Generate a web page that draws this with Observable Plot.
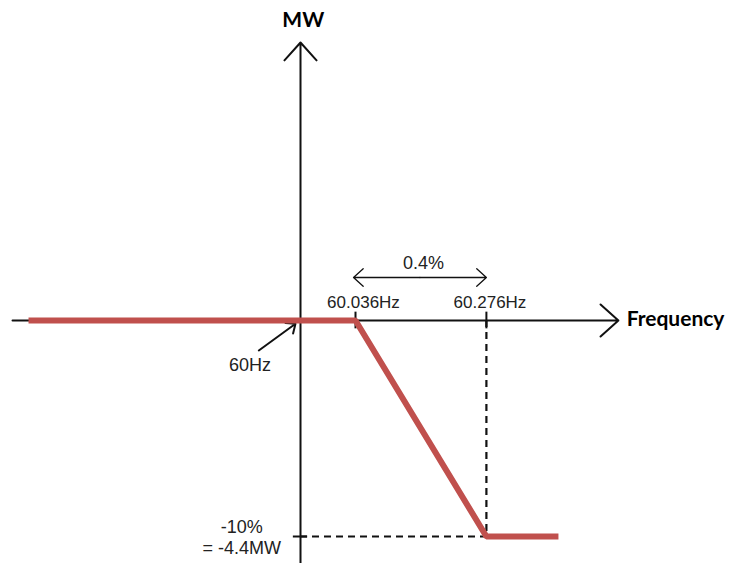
<!DOCTYPE html>
<html>
<head>
<meta charset="utf-8">
<script src="https://cdn.jsdelivr.net/npm/d3@7"></script>
<script src="https://cdn.jsdelivr.net/npm/@observablehq/plot@0.6"></script>
<style>
  html, body { margin: 0; padding: 0; background: #fff; }
  #chart svg { display: block; }
</style>
</head>
<body>
<div id="chart"></div>
<script>
// Schematic droop characteristic (x positions are schematic, not to scale)
const freqLabels = ["60Hz", "60.036Hz", "60.276Hz"];
const freqPos = [0, 1, 3.38];           // schematic positions along the frequency axis
const mwLevelLabel = ["-10%", "= -4.4MW"];
const mwLevel = -4.4;                   // MW at full droop
const spanLabel = "0.4%";
const axisTitles = ["MW", "Frequency"];

// droop curve (schematic x, MW)
const curveX = [-4.945, 0, 1, 3.38, 4.69];
const curveY = [0, 0, 0, -4.4, -4.4];
const curve = curveX.map((x, i) => ({x, y: curveY[i]}));

// axes extents (schematic units)
const xAxisExtent = [-5.236, 5.78];
const yAxisExtent = [-4.95, 5.663];

const black = "#111";
const red = "#c0504d";
const sans = "Liberation Sans, Arial, sans-serif";
const bold = "Lato, Calibri, sans-serif";

const chart = Plot.plot({
  width: 729,
  height: 563,
  margin: 0,
  x: {domain: [-300 / 55, 429 / 55], axis: null},
  y: {domain: [-243 / 49.0909, 320 / 49.0909], axis: null},
  marks: [
    // dashed guides
    Plot.ruleX([freqPos[2]], {y1: 0, y2: mwLevel, stroke: black, strokeWidth: 2.2, strokeDasharray: "7,5"}),
    Plot.ruleY([mwLevel], {x1: freqPos[0], x2: freqPos[2], stroke: black, strokeWidth: 2.2, strokeDasharray: "7,5"}),
    // axes with arrow heads
    Plot.arrow([{x1: xAxisExtent[0], x2: xAxisExtent[1], y: 0}], {
      x1: "x1", x2: "x2", y1: "y", y2: "y", stroke: black, strokeWidth: 2, headLength: 18, headAngle: 84
    }),
    Plot.arrow([{x: 0, y1: yAxisExtent[0], y2: yAxisExtent[1]}], {
      x1: "x", x2: "x", y1: "y1", y2: "y2", stroke: black, strokeWidth: 2, headLength: 18, headAngle: 84
    }),
    // ticks
    Plot.ruleX([freqPos[1], freqPos[2]], {y1: -0.17, y2: 0.17, stroke: black, strokeWidth: 2}),
    Plot.ruleY([mwLevel], {x1: -0.13, x2: 0.13, stroke: black, strokeWidth: 2}),
    // 0.4% double-headed arrow
    Plot.arrow([
      {x1: (0.964 + freqPos[2]) / 2, x2: 0.964, y: 0.876},
      {x1: (0.964 + freqPos[2]) / 2, x2: freqPos[2], y: 0.876}
    ], {x1: "x1", x2: "x2", y1: "y", y2: "y", stroke: black, strokeWidth: 1.3, headLength: 15, headAngle: 84}),
    // 60Hz pointer arrow
    Plot.arrow([{x1: -0.758, y1: -0.611, x2: -0.091, y2: -0.067}], {
      x1: "x1", y1: "y1", x2: "x2", y2: "y2", stroke: black, strokeWidth: 2, headLength: 7.5, headAngle: 80
    }),
    // droop curve
    Plot.line(curve, {x: "x", y: "y", stroke: red, strokeWidth: 6, strokeLinejoin: "miter", strokeLinecap: "butt"}),
    // labels
    Plot.text([freqLabels[1]], {x: 1.145, y: 0.36, text: d => d, fontSize: 17, fontFamily: sans, fill: "#222"}),
    Plot.text([freqLabels[2]], {x: 3.445, y: 0.36, text: d => d, fontSize: 17, fontFamily: sans, fill: "#222"}),
    Plot.text([freqLabels[0]], {x: -0.918, y: -0.908, text: d => d, fontSize: 18, fontFamily: sans, fill: "#222"}),
    Plot.text([spanLabel], {x: 2.236, y: 1.163, text: d => d, fontSize: 18, fontFamily: sans, fill: "#222"}),
    Plot.text([mwLevelLabel.join("\n")], {x: -1.07, y: mwLevel, text: d => d, fontSize: 18, lineHeight: 1.22, fontFamily: sans, fill: "#222"}),
    Plot.text([axisTitles[0]], {x: 0.05, y: 6.12, text: d => d, fontSize: 21, fontWeight: "bold", fontFamily: bold, fill: "#000"}),
    Plot.text([axisTitles[1]], {x: 5.93, y: 0.03, text: d => d, textAnchor: "start", fontSize: 21, fontWeight: "bold", fontFamily: bold, fill: "#000"})
  ]
});
document.getElementById("chart").appendChild(chart);
</script>
</body>
</html>
